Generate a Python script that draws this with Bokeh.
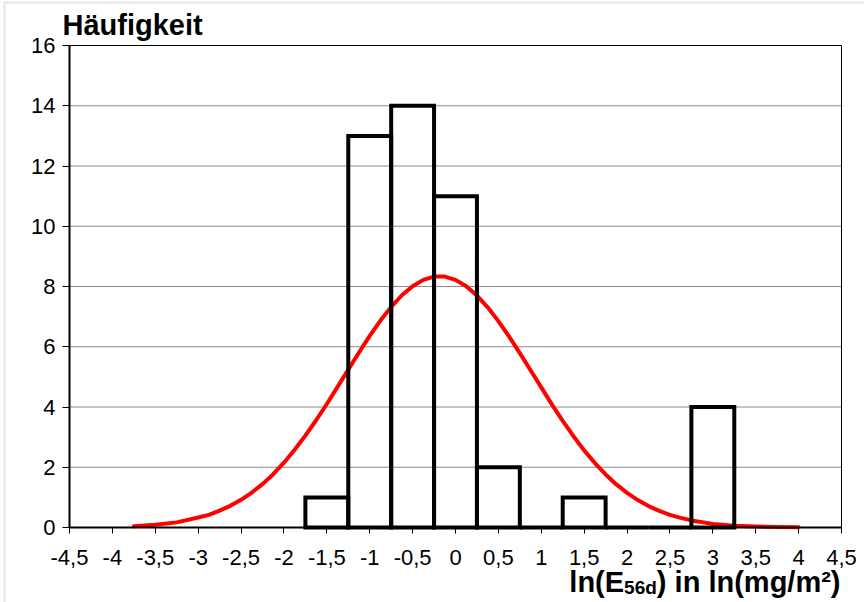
from bokeh.plotting import figure
from bokeh.models import Range1d, FixedTicker, Label, ColumnDataSource, BoxAnnotation
from bokeh.embed import file_html
from bokeh.resources import INLINE

# ---- data ----
bin_left = [-1.75, -1.25, -0.75, -0.25, 0.25, 0.75, 1.25, 1.75, 2.25, 2.75]
bin_right = [-1.25, -0.75, -0.25, 0.25, 0.75, 1.25, 1.75, 2.25, 2.75, 3.25]
counts = [1, 13, 14, 11, 2, 0, 1, 0, 0, 4]

curve_x = [-3.75, -3.5, -3.25, -3.0, -2.875, -2.75, -2.625, -2.5, -2.375, -2.25,
           -2.125, -2.0, -1.875, -1.75, -1.625, -1.5, -1.375, -1.25, -1.125, -1.0,
           -0.875, -0.75, -0.625, -0.5, -0.375, -0.25, -0.125, 0.0, 0.125, 0.25,
           0.375, 0.5, 0.625, 0.75, 0.875, 1.0, 1.125, 1.25, 1.375, 1.5,
           1.625, 1.75, 1.875, 2.0, 2.125, 2.25, 2.375, 2.5, 2.625, 2.75,
           3.0, 3.25, 3.5, 3.75, 4.0]
curve_y = [0.04, 0.09, 0.17, 0.33, 0.42, 0.56, 0.72, 0.92, 1.16, 1.44,
           1.77, 2.15, 2.58, 3.05, 3.56, 4.10, 4.67, 5.24, 5.81, 6.36,
           6.87, 7.32, 7.71, 8.01, 8.22, 8.33, 8.33, 8.22, 8.01, 7.70,
           7.31, 6.85, 6.34, 5.79, 5.22, 4.65, 4.08, 3.54, 3.03, 2.56,
           2.14, 1.76, 1.43, 1.15, 0.91, 0.71, 0.55, 0.42, 0.32, 0.235,
           0.12, 0.06, 0.03, 0.015, 0.007]

x_ticks = [-4.5, -4.0, -3.5, -3.0, -2.5, -2.0, -1.5, -1.0, -0.5, 0.0,
           0.5, 1.0, 1.5, 2.0, 2.5, 3.0, 3.5, 4.0, 4.5]
x_tick_labels = ["-4,5", "-4", "-3,5", "-3", "-2,5", "-2", "-1,5", "-1", "-0,5", "0",
                 "0,5", "1", "1,5", "2", "2,5", "3", "3,5", "4", "4,5"]
y_ticks = [0, 2, 4, 6, 8, 10, 12, 14, 16]
y_tick_labels = ["0", "2", "4", "6", "8", "10", "12", "14", "16"]

y_title = "Häufigkeit"
x_title_parts = ["ln(E", "56d", ") in ln(mg/m²)"]

FONT = "Liberation Sans"
MAIN_PX = 29
SUB_PX = 19
W, H = 864, 602

# plot-area placement inside the canvas (pixels)
PA_L, PA_R, PA_T, PA_B = 69, 841, 45, 527
X0, X1 = x_ticks[0], x_ticks[-1]
Y0, Y1 = y_ticks[0], y_ticks[-1]
sx = (PA_R - PA_L) / (X1 - X0)
sy = (PA_B - PA_T) / (Y1 - Y0)
x_range = Range1d(X0 - PA_L / sx, X1 + (W - PA_R) / sx)
y_range = Range1d(Y0 - (H - PA_B) / sy, Y1 + PA_T / sy)

p = figure(width=W, height=H, output_backend="svg", toolbar_location=None,
           x_range=x_range, y_range=y_range, title=None,
           min_border_left=0, min_border_right=0, min_border_top=0,
           min_border_bottom=0)
p.background_fill_color = "white"
p.border_fill_color = "white"
p.outline_line_color = None
p.xgrid.visible = False
p.ygrid.visible = False

# chart-area border (left and top visible)
p.add_layout(BoxAnnotation(left=4, right=W + 10, top=2, bottom=H + 10,
                           left_units="canvas", right_units="canvas",
                           top_units="canvas", bottom_units="canvas",
                           fill_color=None, fill_alpha=0,
                           line_color="#a6a6a6", line_width=2, level="underlay"))

# horizontal grid lines within the plot area
gy = y_ticks[1:-1]
p.segment(x0=[X0] * len(gy), x1=[X1] * len(gy), y0=gy, y1=gy,
          line_color="#8a8a8a", line_width=1)
# plot-area border (top and right)
p.segment(x0=[X0, X1], x1=[X1, X1], y0=[Y1, Y0], y1=[Y1, Y1],
          line_color="black", line_width=1)

# axes placed at fixed data locations
xa, ya = p.xaxis[0], p.yaxis[0]
xa.fixed_location = Y0
ya.fixed_location = X0
xa.bounds = (X0, X1)
ya.bounds = (Y0, Y1)
for ax in (xa, ya):
    ax.axis_line_color = "black"
    ax.axis_line_width = 2
    ax.major_tick_line_color = "black"
    ax.major_tick_line_width = 1
    ax.minor_tick_line_color = None
    ax.major_tick_in = 0
    ax.major_label_text_font = FONT
    ax.major_label_text_font_size = "22px"
    ax.major_label_text_color = "black"

xa.ticker = FixedTicker(ticks=x_ticks)
xa.major_label_overrides = {t: l for t, l in zip(x_ticks, x_tick_labels)}
xa.major_tick_out = 6
xa.major_label_standoff = 16

ya.ticker = FixedTicker(ticks=y_ticks)
ya.major_label_overrides = {t: l for t, l in zip(y_ticks, y_tick_labels)}
ya.major_tick_out = 7
ya.major_label_standoff = 7

# curve
p.line(curve_x, curve_y, line_color="#ff0000", line_width=4, line_join="round",
       line_cap="round")

# histogram bars (no fill)
src = ColumnDataSource(dict(left=bin_left, right=bin_right, top=counts,
                            bottom=[0] * len(counts)))
p.quad(left="left", right="right", top="top", bottom="bottom", source=src,
       fill_color=None, line_color="black", line_width=4, line_join="miter")

# texts in canvas coordinates
def add_text(x, y, text, size, align):
    p.add_layout(Label(x=x, y=y, x_units="canvas", y_units="canvas",
                       text=text, text_font=FONT, text_font_style="bold",
                       text_font_size=f"{size}px", text_color="black",
                       text_baseline="alphabetic", text_align=align))

add_text(62, 24, y_title, MAIN_PX, "left")

right_edge = 840
w_part3 = 6.333 * MAIN_PX
w_part2 = 1.723 * SUB_PX
add_text(right_edge, 581, x_title_parts[2], MAIN_PX, "right")
add_text(right_edge - w_part3, 587, x_title_parts[1], SUB_PX, "right")
add_text(right_edge - w_part3 - w_part2, 581, x_title_parts[0], MAIN_PX, "right")

out = open("out.html", "w")
out.write(file_html(p, INLINE))
out.close()
